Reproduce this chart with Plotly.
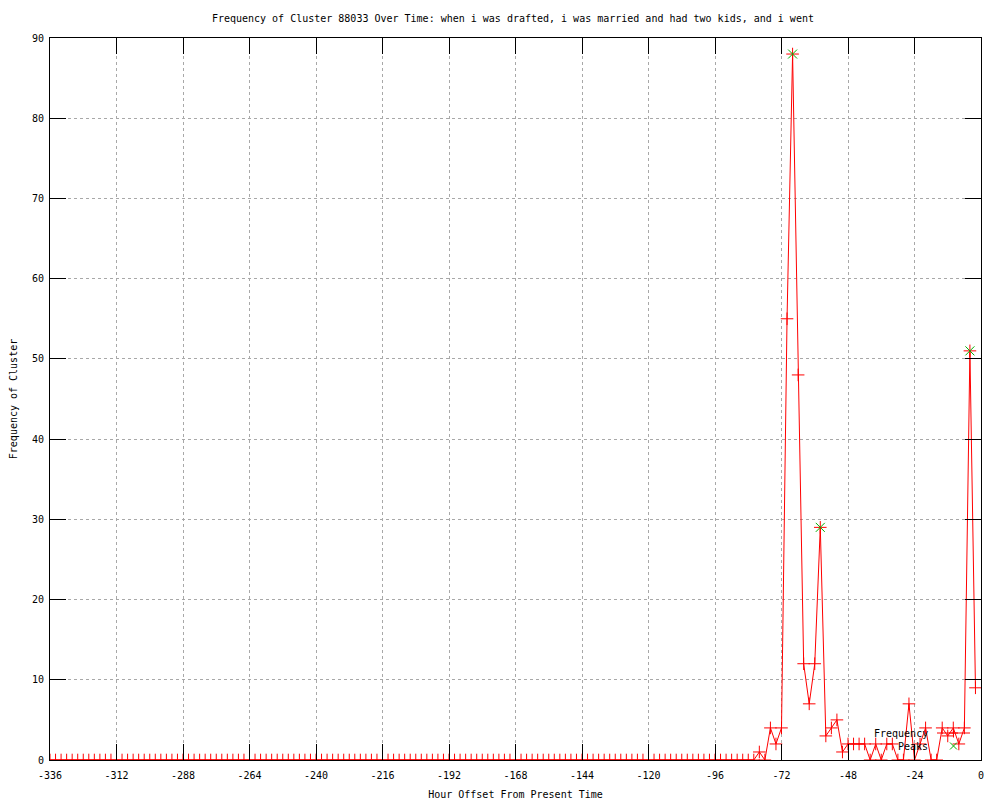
import plotly.graph_objects as go

# Hour offsets (every 2 hours) and frequency values
hours = list(range(-336, 0, 2))
freq = [
    0, 0, 0, 0, 0, 0, 0, 0, 0, 0, 0, 0,  # -336 .. -314
    0, 0, 0, 0, 0, 0, 0, 0, 0, 0, 0, 0,  # -312 .. -290
    0, 0, 0, 0, 0, 0, 0, 0, 0, 0, 0, 0,  # -288 .. -266
    0, 0, 0, 0, 0, 0, 0, 0, 0, 0, 0, 0,  # -264 .. -242
    0, 0, 0, 0, 0, 0, 0, 0, 0, 0, 0, 0,  # -240 .. -218
    0, 0, 0, 0, 0, 0, 0, 0, 0, 0, 0, 0,  # -216 .. -194
    0, 0, 0, 0, 0, 0, 0, 0, 0, 0, 0, 0,  # -192 .. -170
    0, 0, 0, 0, 0, 0, 0, 0, 0, 0, 0, 0,  # -168 .. -146
    0, 0, 0, 0, 0, 0, 0, 0, 0, 0, 0, 0,  # -144 .. -122
    0, 0, 0, 0, 0, 0, 0, 0, 0, 0, 0, 0,  # -120 .. -98
    0, 0, 0, 0, 0, 0, 0, 0,              # -96 .. -82
    1, 0, 4, 2, 4, 55, 88, 48, 12, 7, 12, 29,  # -80 .. -58
    3, 4, 5, 1, 2, 2, 2, 2, 0, 2, 0, 2,        # -56 .. -34
    2, 0, 0, 7, 0, 2, 4, 0, 0, 4, 3, 4,        # -32 .. -10
    2, 4, 51, 9,                               # -8 .. -2
]

peak_hours = [-68, -58, -4]
peak_values = [88, 29, 51]

x_ticks = [-336, -312, -288, -264, -240, -216, -192, -168, -144, -120, -96, -72, -48, -24, 0]
x_tick_labels = [str(v) for v in x_ticks]
y_ticks = [0, 10, 20, 30, 40, 50, 60, 70, 80, 90]

title_text = "Frequency of Cluster 88033 Over Time: when i was drafted, i was married and had two kids, and i went"
x_title = "Hour Offset From Present Time"
y_title = "Frequency of Cluster"
legend_labels = ["Frequency", "Peaks"]

FONT = "DejaVu Sans Mono"
RED = "#ff0000"
GREEN = "#00b000"

fig = go.Figure()
fig.add_trace(go.Scatter(
    x=hours, y=freq, mode="lines+markers", name=legend_labels[0],
    line=dict(color=RED, width=1),
    marker=dict(symbol="cross-thin", size=9, line=dict(color=RED, width=1), color=RED),
    showlegend=False,
))
fig.add_trace(go.Scatter(
    x=peak_hours, y=peak_values, mode="markers", name=legend_labels[1],
    marker=dict(symbol="x-thin", size=9, line=dict(color=GREEN, width=1), color=GREEN),
    showlegend=False,
))

# gnuplot-style key (text right-aligned, sample to its right), placed in plot-area paper coords
PLOT_L, PLOT_R, PLOT_T, PLOT_B = 50, 981, 38, 760
def px(xp):
    return (xp - PLOT_L) / (PLOT_R - PLOT_L)
def py(yp):
    return (PLOT_B - yp) / (PLOT_B - PLOT_T)

key_rows = [733, 746]
for label, yrow in zip(legend_labels, key_rows):
    fig.add_annotation(text=label, x=px(930), y=py(yrow), xref="paper", yref="paper",
                       xanchor="right", yanchor="middle", showarrow=False,
                       font=dict(family=FONT, size=10, color="black"))
# Frequency sample: line with + in the middle
fig.add_shape(type="line", xref="paper", yref="paper", x0=px(937), x1=px(970),
              y0=py(key_rows[0]), y1=py(key_rows[0]), line=dict(color=RED, width=1))
fig.add_shape(type="line", xref="paper", yref="paper", x0=px(949), x1=px(958),
              y0=py(key_rows[0]), y1=py(key_rows[0]), line=dict(color=RED, width=1))
fig.add_shape(type="line", xref="paper", yref="paper", x0=px(953.5), x1=px(953.5),
              y0=py(key_rows[0] - 4.5), y1=py(key_rows[0] + 4.5), line=dict(color=RED, width=1))
# Peaks sample: green x
fig.add_shape(type="line", xref="paper", yref="paper", x0=px(950), x1=px(957),
              y0=py(key_rows[1] - 3.5), y1=py(key_rows[1] + 3.5), line=dict(color=GREEN, width=1))
fig.add_shape(type="line", xref="paper", yref="paper", x0=px(950), x1=px(957),
              y0=py(key_rows[1] + 3.5), y1=py(key_rows[1] - 3.5), line=dict(color=GREEN, width=1))

axis_common = dict(
    showline=True, linecolor="black", linewidth=1, mirror="ticks",
    ticks="inside", ticklen=16, tickcolor="black", tickwidth=1,
    showgrid=True, gridcolor="#a8a8a8", griddash="dot", gridwidth=1,
    zeroline=False, automargin=False,
    tickfont=dict(family=FONT, size=10, color="black"),
)

fig.update_layout(
    width=992, height=792,
    margin=dict(l=42, r=19, t=30, b=40),
    paper_bgcolor="white", plot_bgcolor="white",
    font=dict(family=FONT, size=10, color="black"),
    title=dict(text=title_text, x=0.509, xanchor="center", y=0.987, yanchor="middle",
               font=dict(family=FONT, size=10, color="black")),
    xaxis=dict(range=[-336, 0], tickvals=x_ticks, ticktext=x_tick_labels,
               ticklabelstandoff=6,
               title=dict(text=x_title, standoff=11, font=dict(family=FONT, size=10)),
               **axis_common),
    yaxis=dict(range=[0, 90], tickvals=y_ticks, ticklabelstandoff=3,
               title=dict(text=y_title, standoff=14, font=dict(family=FONT, size=10)),
               **axis_common),
    showlegend=False,
)

fig.write_html("out.html")
